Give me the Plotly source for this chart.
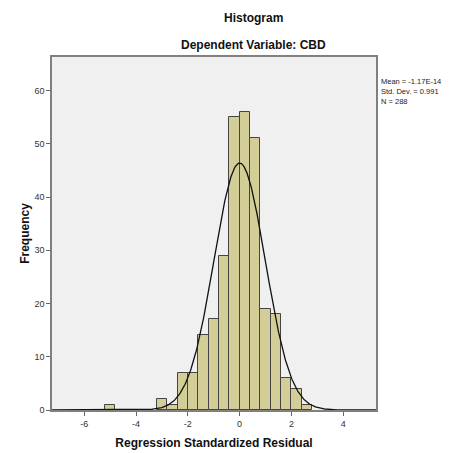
import numpy as np
import plotly.graph_objects as go

# Data
bin_starts = [-5.2, -3.2, -2.8, -2.4, -2.0, -1.6, -1.2, -0.8, -0.4, 0.0, 0.4, 0.8, 1.2, 1.6, 2.0, 2.4]
counts = [1, 2, 1, 7, 7, 14, 17, 29, 55, 56, 51, 19, 18, 6, 4, 1]
bin_width = 0.4
mean = -1.17e-14
std_dev = 0.991
n_obs = 288
x_ticks = [-6, -4, -2, 0, 2, 4]
y_ticks = [0, 10, 20, 30, 40, 50, 60]

centers = [b + bin_width / 2 for b in bin_starts]

xs = np.linspace(-7.25, 5.27, 600)
curve = n_obs * bin_width / (std_dev * np.sqrt(2 * np.pi)) * np.exp(-0.5 * ((xs - mean) / std_dev) ** 2)

font = "Liberation Sans, Arial, sans-serif"

# page body has an 8px margin, so the figure is offset by (8, 8)
W, H = 453, 445
L, T, R, B = 44, 49, 85, 43
pw, ph = W - L - R, H - T - B

fig = go.Figure()
fig.add_trace(go.Bar(
    x=centers, y=counts, width=bin_width,
    marker=dict(color="#d3ce97", line=dict(color="#444444", width=1)),
    hoverinfo="skip",
))
fig.add_trace(go.Scatter(
    x=xs, y=curve, mode="lines",
    line=dict(color="#111111", width=1.3),
    hoverinfo="skip",
))

fig.update_layout(
    width=W, height=H,
    margin=dict(l=L, r=R, t=T, b=B),
    paper_bgcolor="white",
    plot_bgcolor="#f0f0f0",
    showlegend=False,
    bargap=0,
    font=dict(family=font, color="#222222"),
)
fig.update_xaxes(
    range=[-7.25, 5.27], tickvals=x_ticks, ticktext=[str(t) for t in x_ticks],
    showgrid=False, zeroline=False, showline=True, linecolor="#808080", linewidth=1.5,
    mirror=True, ticks="outside", ticklen=4, tickcolor="#666666", automargin=False,
    tickfont=dict(size=9, color="#333333"),
    title=dict(text="<b>Regression Standardized Residual</b>", font=dict(size=12, color="#111111"), standoff=11),
)
fig.update_yaxes(
    range=[0, 66.3], tickvals=y_ticks, ticktext=[str(t) for t in y_ticks],
    showgrid=False, zeroline=False, showline=True, linecolor="#808080", linewidth=1.5,
    mirror=True, ticks="outside", ticklen=4, tickcolor="#666666", automargin=False,
    tickfont=dict(size=9, color="#333333"),
    title=dict(text="<b>Frequency</b>", font=dict(size=12, color="#111111"), standoff=2),
)

def px_x(x):
    return (x - 8 - L) / pw

def px_y(y):
    return 1 - (y - 8 - T) / ph

fig.add_annotation(text="<b>Histogram</b>", xref="paper", yref="paper",
                   x=px_x(253), y=px_y(18),
                   showarrow=False, font=dict(size=12, color="#111111"), xanchor="center", yanchor="middle")
fig.add_annotation(text="<b>Dependent Variable: CBD</b>", xref="paper", yref="paper",
                   x=px_x(253), y=px_y(45),
                   showarrow=False, font=dict(size=12, color="#111111"), xanchor="center", yanchor="middle")
fig.add_annotation(text=f"Mean = -1.17E-14<br>Std. Dev. = {std_dev}<br>N = {n_obs}",
                   xref="paper", yref="paper",
                   x=px_x(379), y=px_y(75),
                   showarrow=False, align="left", xanchor="left", yanchor="top",
                   font=dict(size=7.5, color="#222222"))

fig.write_html("out.html")
